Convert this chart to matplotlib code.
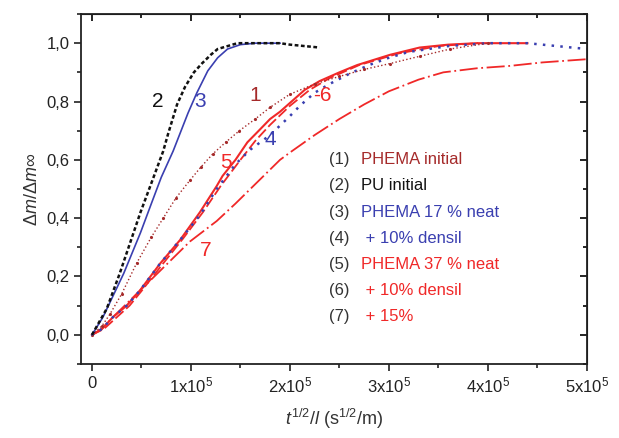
import matplotlib
matplotlib.use("Agg")
import matplotlib.pyplot as plt

plt.rcParams['font.family'] = ['Liberation Sans', 'DejaVu Sans']
plt.rcParams['mathtext.fontset'] = 'custom'
plt.rcParams['mathtext.rm'] = 'Liberation Sans'
plt.rcParams['mathtext.it'] = 'Liberation Sans:italic'

# x in units of 1e5 s^1/2/m, y = dm/dm_inf
x1 = [0, 0.1, 0.18, 0.3, 0.45, 0.6, 0.72, 0.85, 0.99, 1.1, 1.22, 1.35, 1.49, 1.65, 1.8, 2.0,
      2.25, 2.5, 2.75, 3.01, 3.31, 3.62, 4.0]
y1 = [0, 0.03, 0.07, 0.14, 0.245, 0.335, 0.40, 0.47, 0.53, 0.575, 0.62, 0.66, 0.70, 0.74, 0.78, 0.825,
      0.86, 0.886, 0.91, 0.93, 0.955, 0.98, 1.0]

x2 = [0, 0.05, 0.15, 0.28, 0.41, 0.49, 0.6, 0.72, 0.77, 0.86, 0.94, 1.03, 1.11, 1.2, 1.27, 1.37,
      1.47, 1.7, 1.9, 2.0, 2.15, 2.3]
y2 = [0, 0.03, 0.09, 0.21, 0.34, 0.42, 0.52, 0.63, 0.69, 0.79, 0.85, 0.9, 0.93, 0.96, 0.98, 0.99,
      1.0, 1.0, 1.0, 0.995, 0.99, 0.985]

x3 = [0, 0.11, 0.32, 0.49, 0.6, 0.7, 0.82, 0.97, 1.06, 1.17, 1.27, 1.37, 1.5, 1.65, 1.9]
y3 = [0, 0.06, 0.21, 0.35, 0.45, 0.54, 0.63, 0.76, 0.83, 0.905, 0.95, 0.98, 0.995, 1.0, 1.0]

x4 = [0, 0.1, 0.21, 0.35, 0.48, 0.69, 0.89, 1.09, 1.26, 1.45, 1.6, 1.8, 2.0, 2.1, 2.25, 2.4,
      2.6, 2.8, 3.0, 3.2, 3.6, 4.0, 4.4, 4.7, 5.0]
y4 = [0, 0.02, 0.06, 0.1, 0.15, 0.245, 0.325, 0.41, 0.5, 0.585, 0.635, 0.685, 0.75, 0.785, 0.83, 0.86,
      0.895, 0.925, 0.95, 0.97, 0.99, 1.0, 1.0, 0.99, 0.98]

x5 = [0, 0.1, 0.21, 0.35, 0.48, 0.69, 0.89, 1.09, 1.26, 1.32, 1.45, 1.57, 1.7, 1.8, 1.9, 2.0,
      2.15, 2.3, 2.5, 2.68, 3.01, 3.31, 3.6, 3.89, 4.4]
y5 = [0, 0.02, 0.06, 0.1, 0.15, 0.245, 0.325, 0.42, 0.51, 0.545, 0.6, 0.66, 0.705, 0.74, 0.765, 0.795,
      0.84, 0.87, 0.9, 0.925, 0.96, 0.985, 0.995, 1.0, 1.0]

x6 = [0, 0.12, 0.25, 0.38, 0.5, 0.72, 0.92, 1.12, 1.3, 1.5, 1.65, 1.8, 2.0, 2.2, 2.4, 2.7, 3.1,
      3.5, 3.9]
y6 = [0, 0.02, 0.06, 0.1, 0.15, 0.245, 0.33, 0.42, 0.51, 0.6, 0.665, 0.72, 0.785, 0.84, 0.88, 0.925,
      0.965, 0.99, 1.0]

x7 = [0, 0.1, 0.21, 0.45, 0.69, 0.99, 1.26, 1.45, 1.6, 1.75, 1.9, 2.0, 2.25, 2.5, 2.75, 3.0, 3.3,
      3.55, 3.89, 4.22, 4.55, 5.0]
y7 = [0, 0.02, 0.06, 0.14, 0.22, 0.32, 0.39, 0.45, 0.50, 0.55, 0.60, 0.625, 0.685, 0.74, 0.79, 0.835,
      0.875, 0.90, 0.914, 0.922, 0.934, 0.945]

legend_labels = ['PHEMA initial', 'PU initial', 'PHEMA 17 % neat', ' + 10% densil',
                 'PHEMA 37 % neat', ' + 10% densil', ' + 15%']

black = '#111111'
blue = '#3a3fb0'
dred = '#a52a2a'
red = '#f02828'
legend_colors = [dred, black, blue, blue, red, red, red]


def sc(xs):
    return [v * 1e5 for v in xs]


fig = plt.figure(figsize=(6.19, 4.38), dpi=100)
ax = fig.add_axes([0.131, 0.169, 0.817, 0.799])

ax.plot(sc(x7), y7, color=red, lw=1.3, ls=(0, (10, 2, 1, 2)))
ax.plot(sc(x6), y6, color=red, lw=1.3, ls=(0, (6, 2)))
ax.plot(sc(x5), y5, color=red, lw=1.5)
ax.plot(sc(x4), y4, color=blue, lw=1.8, ls=(0, (1, 2.5)))
ax.plot(sc(x1), y1, color=dred, lw=1.0, ls=':', marker='.', ms=2.5)
ax.plot(sc(x3), y3, color=blue, lw=1.2)
ax.plot(sc(x2), y2, color=black, lw=1.8, ls=(0, (1.5, 1)))

ax.set_xlim(-0.11e5, 5e5)
ax.set_ylim(-0.1, 1.1)
ax.set_xticks([0, 1e5, 2e5, 3e5, 4e5, 5e5])
ax.set_xticklabels(['0'] + ['%dx10$^5$' % k for k in range(1, 6)])
ax.set_xticks([0.5e5, 1.5e5, 2.5e5, 3.5e5, 4.5e5], minor=True)
ax.set_yticks([0, 0.2, 0.4, 0.6, 0.8, 1.0])
ax.set_yticklabels(['0,0', '0,2', '0,4', '0,6', '0,8', '1,0'])
ax.set_yticks([-0.1, 0.1, 0.3, 0.5, 0.7, 0.9, 1.1], minor=True)
ax.tick_params(which='both', direction='out', labelsize=12, colors='#222222', width=1.2)
ax.tick_params(which='major', length=5)
ax.tick_params(which='minor', length=3)
for s in ax.spines.values():
    s.set_linewidth(1.3)
    s.set_color('#222222')

# mirror ticks on top and right, pointing inward
axt = ax.secondary_xaxis('top')
axt.set_xticks([0, 1e5, 2e5, 3e5, 4e5, 5e5])
axt.set_xticks([0.5e5, 1.5e5, 2.5e5, 3.5e5, 4.5e5], minor=True)
axt.tick_params(which='both', direction='in', labeltop=False, width=1.2)
axt.tick_params(which='major', length=5)
axt.tick_params(which='minor', length=3)
axr = ax.secondary_yaxis('right')
axr.set_yticks([0, 0.2, 0.4, 0.6, 0.8, 1.0])
axr.set_yticks([-0.1, 0.1, 0.3, 0.5, 0.7, 0.9, 1.1], minor=True)
axr.tick_params(which='both', direction='in', labelright=False, width=1.2)
axr.tick_params(which='major', length=5)
axr.tick_params(which='minor', length=3)

ax.set_ylabel(r'$\Delta m/\Delta m\infty$', fontsize=13, color='#333333', labelpad=4)
ax.set_xlabel(r'$t^{1/2}/l$ (s$^{1/2}$/m)', fontsize=13, color='#333333', labelpad=8)

# curve numbers
ax.text(0.66e5, 0.8, '2', color=black, fontsize=15, ha='center', va='center')
ax.text(1.09e5, 0.8, '3', color=blue, fontsize=15, ha='center', va='center')
ax.text(1.65e5, 0.82, '1', color=dred, fontsize=15, ha='center', va='center')
ax.text(2.33e5, 0.82, '-6', color=red, fontsize=15, ha='center', va='center')
ax.text(1.80e5, 0.67, '4', color=blue, fontsize=15, ha='center', va='center')
ax.text(1.35e5, 0.59, '5', color=red, fontsize=15, ha='center', va='center')
ax.text(1.15e5, 0.29, '7', color=red, fontsize=15, ha='center', va='center')

# legend as text
y0 = 0.6
for i, (lab, c) in enumerate(zip(legend_labels, legend_colors)):
    yy = y0 - i * 0.0895
    ax.text(2.4e5, yy, '(%d)' % (i + 1), color='#333333', fontsize=12, va='center')
    ax.text(2.72e5, yy, lab, color=c, fontsize=12, va='center')

fig.savefig('out.png', dpi=100)
